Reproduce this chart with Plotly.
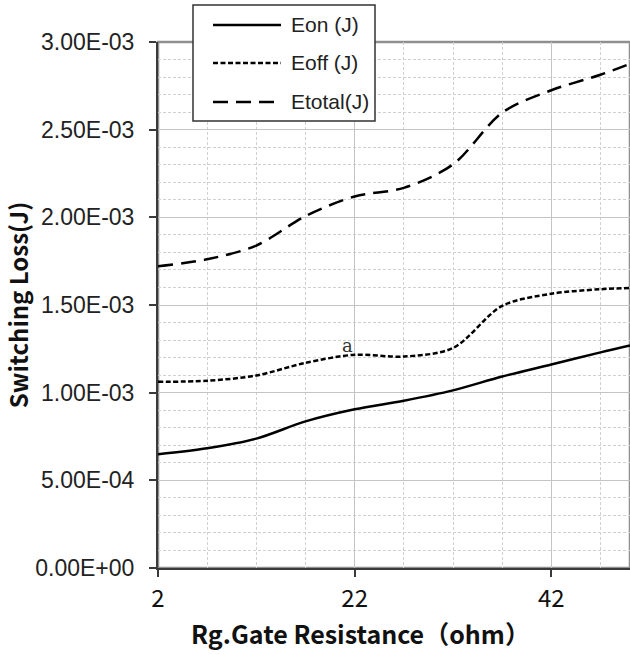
import plotly.graph_objects as go

# ---- data ----
rg_ohm = [2, 7, 12, 17, 22, 27, 32, 37, 42, 47, 50]
eon_j = [0.649e-3, 0.683e-3, 0.738e-3, 0.836e-3, 0.905e-3, 0.954e-3, 1.013e-3, 1.092e-3, 1.161e-3, 1.230e-3, 1.269e-3]
eoff_j = [1.062e-3, 1.068e-3, 1.098e-3, 1.170e-3, 1.216e-3, 1.206e-3, 1.255e-3, 1.495e-3, 1.564e-3, 1.590e-3, 1.597e-3]
etotal_j = [1.721e-3, 1.761e-3, 1.839e-3, 2.007e-3, 2.119e-3, 2.168e-3, 2.302e-3, 2.597e-3, 2.725e-3, 2.813e-3, 2.876e-3]

series_names = ["Eon (J)", "Eoff (J)", "Etotal(J)"]
series_dash = ["solid", "5px,2.5px", "15px,8px"]

y_tick_vals = [0, 5e-4, 1e-3, 1.5e-3, 2e-3, 2.5e-3, 3e-3]
y_tick_text = ["0.00E+00", "5.00E-04", "1.00E-03", "1.50E-03", "2.00E-03", "2.50E-03", "3.00E-03"]
x_tick_vals = [2, 22, 42]
x_tick_text = ["2", "22", "42"]

annot_text = "a"
annot_x = 21.3
annot_y = 1.215e-3

W, H = 630, 655
ML, MR, MT, MB = 158, 0, 42, 87
PW, PH = W - ML - MR, H - MT - MB

def px_x(p):
    return (p - ML) / PW

def px_y(p):
    return (H - MB - p) / PH

fig = go.Figure()
for name, vals, dash in zip(series_names, [eon_j, eoff_j, etotal_j], series_dash):
    fig.add_trace(go.Scatter(
        x=rg_ohm, y=vals, name=name, mode="lines",
        line=dict(color="black", width=2.5, dash=dash, shape="spline", smoothing=0.9),
        showlegend=False,
    ))

grid_major = "#c4c4c4"
grid_minor = "#d0d0d0"
axis_dark = "#3a3a3a"

fig.update_xaxes(
    range=[2, 50], tickmode="array", tickvals=x_tick_vals, ticktext=x_tick_text,
    showline=True, linecolor=axis_dark, linewidth=2,
    ticks="outside", ticklen=7, tickwidth=1.5, tickcolor=axis_dark,
    showgrid=True, gridcolor=grid_major, gridwidth=1.2,
    minor=dict(tick0=2, dtick=5, showgrid=True, gridcolor=grid_minor, griddash="3px,2px", gridwidth=1, ticklen=0),
    tickfont=dict(family="Noto Sans CJK SC", size=24, color="#111"),
    ticklabelstandoff=1,
    zeroline=False, fixedrange=True,
)
fig.update_yaxes(
    range=[0, 3e-3], tickmode="array", tickvals=y_tick_vals, ticktext=y_tick_text,
    showline=True, linecolor=axis_dark, linewidth=2,
    ticks="outside", ticklen=7, tickwidth=1.5, tickcolor=axis_dark,
    showgrid=True, gridcolor=grid_major, gridwidth=1.2,
    minor=dict(tick0=0, dtick=1e-4, showgrid=True, gridcolor=grid_minor, griddash="3px,2px", gridwidth=1, ticklen=0),
    tickfont=dict(family="Liberation Sans, Arial", size=23, color="#222"),
    ticklabelstandoff=10,
    title=dict(text="<b>Switching Loss(J)</b>", font=dict(family="Noto Sans CJK SC", size=24, color="#111"), standoff=4),
    zeroline=False, fixedrange=True,
)

shapes = [
    dict(type="rect", xref="paper", yref="paper", x0=0, y0=0, x1=1, y1=1,
         line=dict(color="#8f8f8f", width=2.5), layer="below"),
    dict(type="rect", xref="paper", yref="paper", x0=px_x(193), x1=px_x(375), y0=px_y(121), y1=px_y(5),
         line=dict(color="#333", width=1.5), fillcolor="white", layer="above"),
]
annotations = []
legend_rows = [25, 63, 102]
for name, dash, ry in zip(series_names, series_dash, legend_rows):
    shapes.append(dict(type="line", xref="paper", yref="paper", x0=px_x(213), x1=px_x(281), y0=px_y(ry), y1=px_y(ry),
                       line=dict(color="black", width=2.5, dash=dash), layer="above"))
    annotations.append(dict(text=name, xref="paper", yref="paper", x=px_x(289), y=px_y(ry),
                            xanchor="left", yanchor="middle", showarrow=False,
                            font=dict(family="Liberation Sans, Arial", size=21, color="#222")))

annotations.append(dict(text=annot_text, x=annot_x, y=annot_y, xref="x", yref="y", showarrow=False,
                        xanchor="center", yanchor="bottom", yshift=-3,
                        font=dict(family="DejaVu Serif", size=18, color="#333")))
annotations.append(dict(text="<b>Rg.Gate Resistance（ohm）</b>", xref="paper", yref="paper",
                        x=px_x(360), y=px_y(633), xanchor="center", yanchor="middle", showarrow=False,
                        font=dict(family="Noto Sans CJK SC", size=25, color="#111")))

fig.update_layout(
    width=W, height=H,
    margin=dict(l=ML, r=MR, t=MT, b=MB, pad=0),
    paper_bgcolor="white", plot_bgcolor="white",
    shapes=shapes, annotations=annotations,
    showlegend=False,
)

fig.write_html("out.html")
